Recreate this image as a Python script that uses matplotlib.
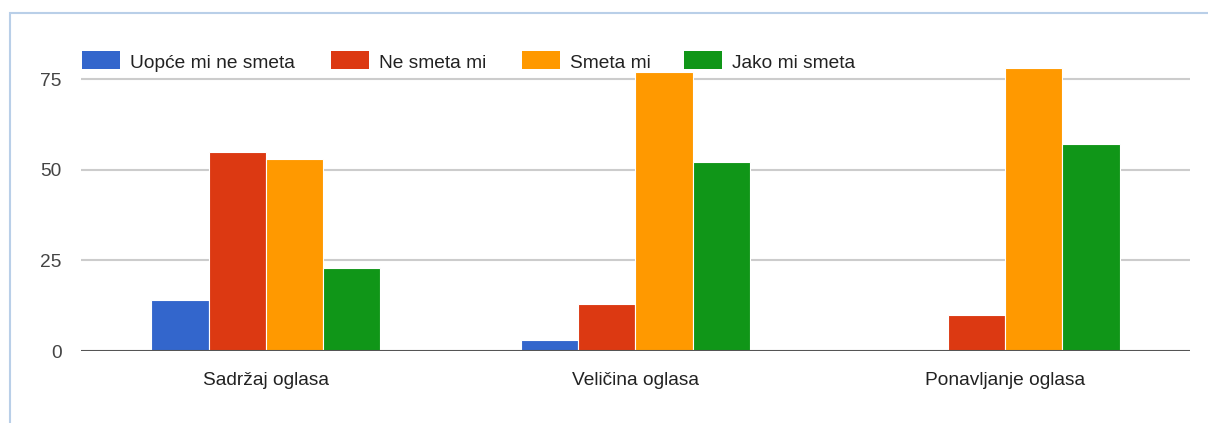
import matplotlib
matplotlib.use('Agg')
import matplotlib.pyplot as plt
import matplotlib.patches as mpatches
import numpy as np

categories = ['Sadržaj oglasa', 'Veličina oglasa', 'Ponavljanje oglasa']
series_names = ['Uopće mi ne smeta', 'Ne smeta mi', 'Smeta mi', 'Jako mi smeta']
uopce = [14, 3, 0]
ne_smeta = [55, 13, 10]
smeta = [53, 77, 78]
jako = [23, 52, 57]
yticks = [0, 25, 50, 75]

colors = ['#3366cc', '#dc3912', '#ff9900', '#109618']

plt.rcParams['font.family'] = ['Liberation Sans', 'DejaVu Sans']

W, H = 1208, 423
fig = plt.figure(figsize=(W / 100, H / 100), dpi=100)
ax = fig.add_axes([81 / W, 72 / H, (1190 - 81) / W, (351 - 61) / H])

# light blue frame around the chart
fig.add_artist(mpatches.Rectangle((10 / W, -0.01), 1.02, (H - 13) / H + 0.01,
                                  transform=fig.transFigure, fill=False,
                                  edgecolor='#b9cfe8', linewidth=1.5))

x = np.arange(len(categories))
bw = 0.155
all_series = [uopce, ne_smeta, smeta, jako]
for i, (vals, c) in enumerate(zip(all_series, colors)):
    offs = (i - 1.5) * bw
    ax.bar(x + offs, vals, width=bw, color=c, edgecolor='white',
           linewidth=0.8, zorder=3)

ax.set_xlim(-0.5, len(categories) - 0.5)
ax.set_ylim(0, 80)
ax.set_yticks(yticks)
ax.set_yticklabels([str(t) for t in yticks], fontsize=13.8, color='#444444')
ax.set_xticks(x)
ax.set_xticklabels(categories, fontsize=13.8, color='#222222')
ax.tick_params(axis='both', length=0)
ax.tick_params(axis='y', pad=14)
ax.tick_params(axis='x', pad=15)

for t in yticks[1:]:
    ax.axhline(t, color='#cccccc', linewidth=1.5, zorder=1)
ax.axhline(0, color='#555555', linewidth=1.5, zorder=4)

for s in ax.spines.values():
    s.set_visible(False)

# legend row across the top
leg_x = [82, 331, 522, 684]
for lx, c, name in zip(leg_x, colors, series_names):
    fig.add_artist(mpatches.Rectangle((lx / W, (H - 69) / H), 38 / W, 18 / H,
                                      transform=fig.transFigure,
                                      facecolor=c, edgecolor='none'))
    fig.text((lx + 48) / W, (H - 61) / H, name, fontsize=13.8,
             color='#222222', ha='left', va='center_baseline')

fig.savefig('out.png', dpi=100, facecolor='white')
